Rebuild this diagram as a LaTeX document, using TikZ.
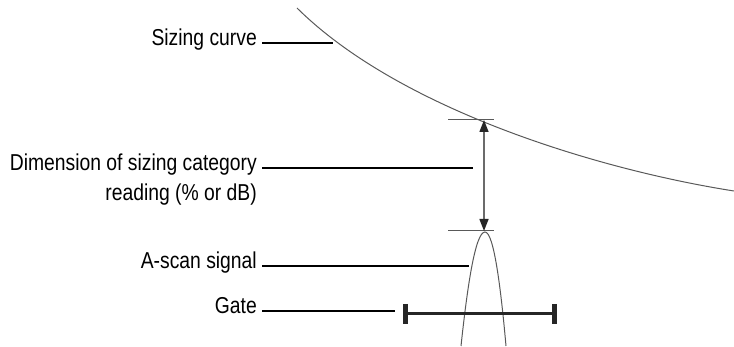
\documentclass[tikz,border=0pt]{standalone}
\usepackage{fontspec}
\setmainfont{Liberation Sans}[FakeStretch=0.84]
\usetikzlibrary{arrows.meta, calc}
\definecolor{ccurve}{HTML}{595959}
\definecolor{cshaft}{HTML}{6B6B6B}
\definecolor{cdark}{HTML}{262626}
\tikzset{
  every picture/.style={font=\fontsize{23}{30}\selectfont},
  callout/.style={anchor=mid east, align=right, inner xsep=5pt, inner ysep=0pt},
  leader/.style={draw=black, line width=2pt},
  curve/.style={draw=ccurve, line width=1pt},
  tick/.style={draw=ccurve, line width=1pt},
  dimarrow/.style={draw=cshaft, line width=1.4pt,
    {Triangle[length=12pt, width=9pt, color=cdark]}-{Triangle[length=12pt, width=9pt, color=cdark]}},
  gatebar/.style={draw=cdark, line width=3pt},
  gatecap/.style={draw=cdark, line width=5pt},
}

\begin{document}
\begin{tikzpicture}[x=1pt, y=-1pt]
  \useasboundingbox (0,0) rectangle (734,347);
  % sizing curve, falling off to the right
  \draw[curve] (297,8) .. controls (400,110) and (600,170) .. (734,191);
  % reading between curve and signal peak
  \coordinate (top) at (484,120);
  \coordinate (peak) at (484,231);
  \foreach \c in {top,peak}
    \draw[tick] ([xshift=-36pt]\c) -- ([xshift=10pt]\c);
  \draw[dimarrow] (top) -- (peak);
  % A-scan echo
  \draw[curve] (461,346) .. controls (467,290) and (475,232) .. (485,232)
    .. controls (494,232) and (501,290) .. (506,346);
  % gate
  \coordinate (gl) at (403,314);
  \coordinate (gr) at (557,314);
  \draw[gatebar] (gl) -- (gr);
  \foreach \c/\s in {gl/2.5,gr/-2.5}
    \draw[gatecap] ([xshift=\s pt, yshift=10pt]\c) -- ([xshift=\s pt, yshift=-10pt]\c);
  % labels and their leaders
  \node[callout] (sizinglbl) at (262,43) {Sizing curve};
  \node[callout, anchor=north east] (dimlbl) at (262,153.5) {Dimension of sizing category\\reading (\% or dB)};
  \node[callout] (ascanlbl) at (262,266) {A-scan signal};
  \node[callout] (gatelbl) at (262,311) {Gate};
  \coordinate (curvept) at (333,43);
  \coordinate (dimpt) at (473,168);
  \coordinate (ascanpt) at (469,266);
  \coordinate (gatept) at (395,311);
  \foreach \l/\p in {sizinglbl/curvept, ascanlbl/ascanpt, gatelbl/gatept}
    \draw[leader] (\l.mid east) -- (\p);
  \draw[leader] (dimlbl.east |- dimpt) -- (dimpt);
\end{tikzpicture}
\end{document}
